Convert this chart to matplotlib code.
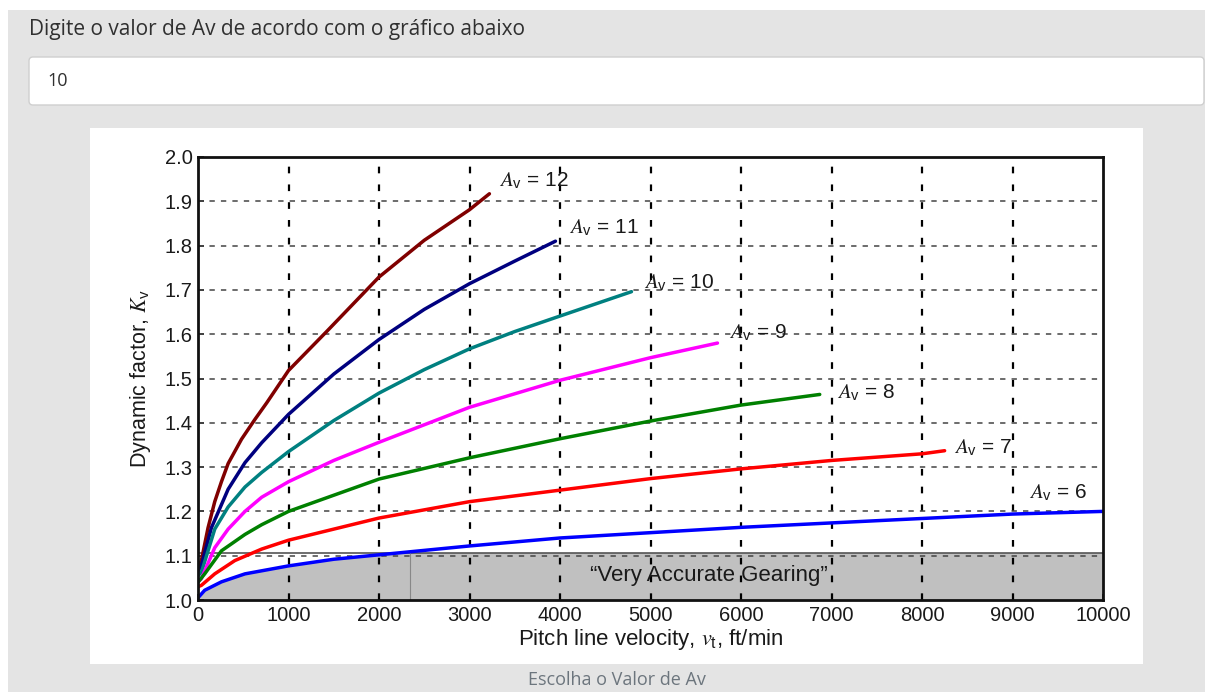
import matplotlib
matplotlib.use("Agg")
import matplotlib.pyplot as plt
from matplotlib.patches import Rectangle, FancyBboxPatch

plt.rcParams['mathtext.fontset'] = 'custom'
plt.rcParams['mathtext.it'] = 'STIXGeneral:italic'
plt.rcParams['mathtext.rm'] = 'Liberation Sans'
plt.rcParams['mathtext.sf'] = 'Liberation Sans'
plt.rcParams['font.family'] = ['Liberation Sans', 'DejaVu Sans']

# ---------------- data ----------------
v12 = [0, 37, 111, 185, 259, 333, 481, 630, 759, 1000, 1426, 2000, 2500, 3000, 3220]
k12 = [1.074, 1.089, 1.163, 1.222, 1.267, 1.308, 1.363, 1.408, 1.445, 1.518, 1.607,
       1.729, 1.812, 1.881, 1.917]

v11 = [0, 37, 148, 333, 519, 704, 1000, 1500, 2000, 2500, 3000, 3500, 3950]
k11 = [1.065, 1.078, 1.163, 1.250, 1.310, 1.355, 1.419, 1.510, 1.588, 1.656, 1.714,
       1.765, 1.810]

v10 = [0, 37, 185, 333, 519, 704, 1000, 1500, 2000, 2500, 3000, 3500, 4000, 4790]
k10 = [1.055, 1.062, 1.160, 1.210, 1.255, 1.288, 1.335, 1.405, 1.467, 1.520, 1.567,
       1.606, 1.641, 1.696]

v9 = [0, 37, 185, 333, 519, 704, 1000, 1500, 2000, 3000, 4000, 5000, 5740]
k9 = [1.041, 1.048, 1.118, 1.160, 1.200, 1.232, 1.267, 1.315, 1.356, 1.435, 1.496,
      1.547, 1.580]

v8 = [0, 74, 259, 519, 704, 1000, 2000, 3000, 4000, 5000, 6000, 6870]
k8 = [1.040, 1.059, 1.111, 1.148, 1.170, 1.200, 1.273, 1.321, 1.364, 1.404, 1.440, 1.464]

v7 = [0, 37, 185, 407, 704, 1000, 2000, 3000, 4000, 5000, 6000, 7000, 8000, 8250]
k7 = [1.030, 1.033, 1.059, 1.089, 1.115, 1.135, 1.185, 1.222, 1.248, 1.274, 1.296,
      1.315, 1.330, 1.337]

v6 = [0, 74, 259, 519, 1000, 1500, 2000, 3000, 4000, 5000, 6000, 7000, 8000, 9000, 10000]
k6 = [1.005, 1.022, 1.041, 1.059, 1.077, 1.092, 1.102, 1.122, 1.140, 1.152, 1.164,
      1.174, 1.184, 1.194, 1.200]

series_v = [v12, v11, v10, v9, v8, v7, v6]
series_k = [k12, k11, k10, k9, k8, k7, k6]
series_av = [12, 11, 10, 9, 8, 7, 6]
colors = ['#800000', '#00007f', '#008080', '#ff00ff', '#008000', '#ff0000', '#0000ff']
label_pos = [(3330, 1.946), (4100, 1.840), (4930, 1.716), (5870, 1.603),
             (7060, 1.467), (8350, 1.345), (9180, 1.242)]

x_ticks = [0, 1000, 2000, 3000, 4000, 5000, 6000, 7000, 8000, 9000, 10000]
y_ticks = [1.0, 1.1, 1.2, 1.3, 1.4, 1.5, 1.6, 1.7, 1.8, 1.9, 2.0]
shade_top = 1.105
shade_split = 2340

# ---------------- page ----------------
W, H = 1205, 692
fig = plt.figure(figsize=(W / 100, H / 100), dpi=100)
bg = fig.add_axes([0, 0, 1, 1])
bg.set_xlim(0, W)
bg.set_ylim(H, 0)
bg.axis('off')
bg.add_patch(Rectangle((0, 0), W, H, facecolor='white', edgecolor='none'))
bg.add_patch(Rectangle((8, 10), W - 8, H - 10, facecolor='#e4e4e4', edgecolor='none'))
bg.add_patch(FancyBboxPatch((29, 57), 1175, 48, boxstyle='round,pad=0,rounding_size=4',
                            facecolor='white', edgecolor='#cfcfcf', linewidth=1))
bg.add_patch(Rectangle((90, 128), 1053, 536, facecolor='white', edgecolor='none'))
bg.text(29, 30, 'Digite o valor de Av de acordo com o gráfico abaixo', fontsize=15,
        family=['Open Sans', 'DejaVu Sans'], color='#303030', va='center', ha='left')
bg.text(47, 81, '10', fontsize=13, family=['Open Sans', 'DejaVu Sans'],
        color='#303030', va='center', ha='left')
bg.text(617, 680, 'Escolha o Valor de Av', fontsize=13, family=['Open Sans', 'DejaVu Sans'],
        color='#6c757d', va='center', ha='center')

# ---------------- chart ----------------
ax = fig.add_axes([198 / W, 1 - 600 / H, (1103 - 198) / W, (600 - 157) / H])
ax.set_xlim(0, 10000)
ax.set_ylim(1.0, 2.0)

fill = ax.fill_between(v6, 1.0, k6, facecolor='#c0c0c0', edgecolor='none', zorder=1)
clip = Rectangle((0, 1.0), 10000, shade_top - 1.0, transform=ax.transData)
fill.set_clip_path(clip)
ax.axhline(shade_top, color='#555555', lw=1.2, zorder=1.5)
ax.plot([shade_split, shade_split], [1.0, shade_top], color='#888888', lw=0.8, zorder=1.5)
ax.text(5650, 1.055, '\u201cVery Accurate Gearing\u201d', fontsize=16, ha='center',
        va='center', color='#1a1a1a', zorder=3)

for xv in x_ticks[1:-1]:
    ax.axvline(xv, color='black', lw=1.6, ls=(0, (3, 5)), zorder=2)
for yv in y_ticks[1:-1]:
    ax.axhline(yv, color='#444444', lw=1.1, ls=(0, (3.5, 4)), zorder=2)

for v, k, av, c, (lx, ly) in zip(series_v, series_k, series_av, colors, label_pos):
    ax.plot(v, k, color=c, lw=2.5, solid_capstyle='round', solid_joinstyle='round', zorder=4)
    ax.text(lx, ly, r'$A_{\mathsf{v}}$' + f' = {av}', fontsize=15, ha='left',
            va='center', color='#1a1a1a', zorder=5)

ax.set_xticks(x_ticks)
ax.set_yticks(y_ticks)
ax.set_xticklabels([str(t) for t in x_ticks])
ax.set_yticklabels([f'{t:.1f}' for t in y_ticks])
ax.tick_params(axis='both', direction='in', length=4, width=1.2, labelsize=14.5, pad=4,
               colors='#1a1a1a')
for s in ax.spines.values():
    s.set_linewidth(2)
    s.set_color('#111111')
    s.set_zorder(6)

ax.set_xlabel(r'Pitch line velocity, $v_{\mathsf{t}}$, ft/min', fontsize=16,
              color='#1a1a1a', labelpad=2)
ax.set_ylabel(r'Dynamic factor, $K_{\mathsf{v}}$', fontsize=15.5, color='#1a1a1a',
              labelpad=8)

fig.savefig('out.png', dpi=100)
